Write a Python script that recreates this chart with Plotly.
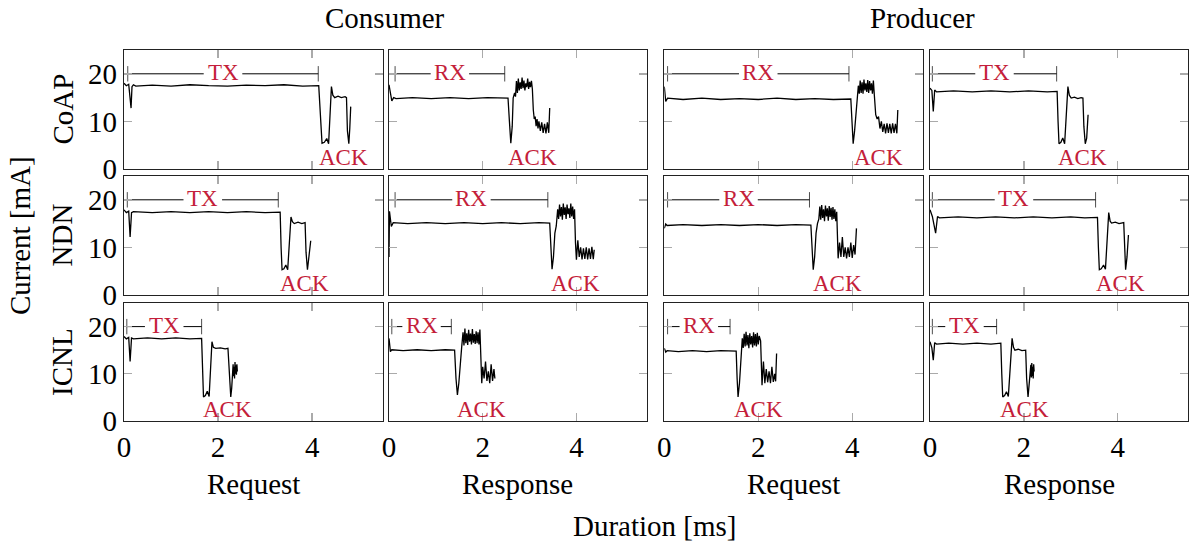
import plotly.graph_objects as go

# ---------------- data ----------------
protocols = ["CoAP", "NDN", "ICNL"]
roles = ["Consumer", "Producer"]
phases = ["Request", "Response", "Request", "Response"]
x_ticks = [0, 2, 4]
y_ticks = [0, 10, 20]
x_range = [0, 5.5]
y_range = [0, 25]

# CoAP
coap_cons_req_t = [0, 0.05, 0.10, 0.15, 0.17, 0.20, 0.25, 0.6, 1.0, 1.4, 1.8, 2.2, 2.6, 3.0, 3.4, 3.8, 4.14, 4.17, 4.21, 4.26, 4.31, 4.35, 4.39, 4.41, 4.44, 4.48, 4.55, 4.62, 4.70, 4.73, 4.75, 4.78, 4.80, 4.82]
coap_cons_req_i = [18.0, 17.5, 17.8, 12.8, 17.3, 17.7, 17.4, 17.6, 17.4, 17.7, 17.5, 17.4, 17.6, 17.5, 17.7, 17.4, 17.5, 11.0, 5.4, 5.6, 6.4, 5.3, 12.5, 17.3, 15.5, 15.0, 15.3, 15.0, 15.2, 15.0, 8.0, 5.3, 8.5, 13.1]

coap_cons_resp_t = [0, 0.03, 0.06, 0.10, 0.15, 0.5, 0.9, 1.3, 1.7, 2.1, 2.54, 2.57, 2.60, 2.63, 2.65, 2.68, 2.70, 2.72, 2.74, 2.76, 2.78, 2.80, 2.82, 2.84, 2.86, 2.88, 2.90, 2.92, 2.94, 2.96, 2.98, 3.00, 3.02, 3.04, 3.06, 3.08, 3.10, 3.12, 3.14, 3.16, 3.18, 3.20, 3.23, 3.26, 3.29, 3.32, 3.35, 3.38, 3.41, 3.43]
coap_cons_resp_i = [17.7, 15.5, 14.3, 15.0, 14.8, 15.0, 14.8, 15.0, 14.8, 15.0, 14.9, 10.0, 5.4, 9.0, 14.9, 16.0, 15.2, 18.5, 16.0, 19.0, 16.5, 18.2, 16.8, 19.2, 17.0, 18.6, 16.5, 18.0, 17.2, 19.0, 16.8, 18.3, 17.2, 18.5, 16.8, 12.4, 10.5, 11.0, 9.0, 10.5, 8.5, 10.0, 8.0, 9.8, 7.6, 9.5, 7.5, 9.8, 7.6, 12.8]

coap_prod_req_t = [0, 0.03, 0.07, 0.4, 0.8, 1.2, 1.6, 2.0, 2.4, 2.8, 3.2, 3.6, 3.97, 4.00, 4.02, 4.05, 4.08, 4.10, 4.13, 4.15, 4.17, 4.19, 4.21, 4.23, 4.25, 4.27, 4.29, 4.31, 4.33, 4.35, 4.37, 4.39, 4.41, 4.43, 4.45, 4.47, 4.50, 4.53, 4.56, 4.59, 4.62, 4.65, 4.68, 4.71, 4.74, 4.77, 4.80, 4.83, 4.86, 4.89, 4.92, 4.95, 4.97]
coap_prod_req_i = [17.3, 14.2, 14.9, 14.6, 14.9, 14.6, 14.8, 14.6, 14.9, 14.6, 14.8, 14.6, 14.7, 9.0, 5.3, 8.0, 12.4, 13.5, 17.5, 15.8, 18.6, 16.0, 18.2, 15.8, 18.8, 16.5, 18.0, 16.2, 18.7, 16.0, 18.5, 16.5, 18.0, 15.8, 18.6, 15.6, 11.4, 10.5, 11.0, 8.5, 10.0, 7.8, 9.5, 7.5, 9.6, 7.6, 9.5, 7.5, 9.6, 7.6, 9.5, 7.5, 12.4]

coap_prod_resp_t = [0, 0.04, 0.07, 0.10, 0.14, 0.5, 0.9, 1.3, 1.7, 2.1, 2.5, 2.71, 2.73, 2.75, 2.79, 2.83, 2.87, 2.91, 2.94, 2.97, 3.01, 3.08, 3.15, 3.22, 3.26, 3.28, 3.31, 3.34, 3.37]
coap_prod_resp_i = [17.0, 16.5, 12.1, 16.6, 16.2, 16.4, 16.2, 16.4, 16.2, 16.4, 16.2, 16.3, 10.0, 5.3, 5.6, 6.5, 5.3, 11.0, 17.3, 15.5, 14.9, 15.1, 14.8, 15.0, 14.9, 9.0, 5.3, 6.5, 11.4]

# NDN
ndn_cons_req_t = [0, 0.05, 0.10, 0.13, 0.16, 0.20, 0.6, 1.0, 1.4, 1.8, 2.2, 2.6, 3.0, 3.32, 3.34, 3.36, 3.40, 3.44, 3.48, 3.52, 3.55, 3.58, 3.62, 3.70, 3.78, 3.85, 3.87, 3.90, 3.93, 3.97]
ndn_cons_req_i = [17.9, 17.3, 17.6, 12.2, 17.3, 17.5, 17.3, 17.5, 17.3, 17.5, 17.3, 17.5, 17.3, 17.4, 10.0, 5.3, 5.5, 6.3, 5.3, 11.0, 16.4, 15.4, 15.0, 15.3, 15.0, 15.2, 9.0, 5.3, 8.0, 11.4]

ndn_cons_resp_t = [0, 0.01, 0.05, 0.09, 0.4, 0.8, 1.2, 1.6, 2.0, 2.4, 2.8, 3.2, 3.43, 3.46, 3.48, 3.51, 3.54, 3.57, 3.60, 3.62, 3.64, 3.66, 3.68, 3.70, 3.72, 3.74, 3.76, 3.78, 3.80, 3.82, 3.84, 3.86, 3.88, 3.90, 3.92, 3.94, 3.96, 3.98, 4.00, 4.03, 4.06, 4.09, 4.12, 4.15, 4.18, 4.21, 4.24, 4.27, 4.30, 4.33, 4.36, 4.38]
ndn_cons_resp_i = [8.0, 17.6, 14.4, 15.2, 15.0, 15.2, 15.0, 15.2, 15.0, 15.2, 15.0, 15.2, 15.1, 10.0, 5.4, 8.0, 13.0, 14.5, 18.0, 16.0, 19.0, 16.5, 18.5, 15.8, 19.2, 16.8, 18.4, 16.0, 19.0, 17.0, 18.2, 16.2, 19.2, 16.5, 18.6, 16.0, 18.0, 11.0, 7.4, 11.5, 8.0, 10.0, 7.5, 9.8, 7.6, 10.0, 7.5, 9.8, 7.6, 10.1, 7.5, 9.5]

ndn_prod_req_t = [0, 0.03, 0.06, 0.4, 0.8, 1.2, 1.6, 2.0, 2.4, 2.8, 3.12, 3.15, 3.17, 3.20, 3.23, 3.26, 3.29, 3.31, 3.33, 3.35, 3.37, 3.39, 3.41, 3.43, 3.45, 3.47, 3.49, 3.51, 3.53, 3.55, 3.57, 3.59, 3.61, 3.63, 3.65, 3.67, 3.70, 3.73, 3.76, 3.79, 3.82, 3.85, 3.88, 3.91, 3.94, 3.97, 4.00, 4.03, 4.06, 4.09]
ndn_prod_req_i = [14.0, 14.9, 14.6, 14.8, 14.6, 14.8, 14.6, 14.8, 14.6, 14.8, 14.7, 9.0, 5.3, 8.0, 13.0, 15.0, 16.0, 18.6, 15.8, 18.9, 16.2, 18.0, 15.5, 18.8, 16.5, 18.2, 15.6, 18.7, 16.4, 18.3, 15.8, 18.5, 16.0, 18.0, 15.5, 17.5, 7.7, 11.0, 8.0, 12.2, 8.0, 10.0, 7.7, 10.0, 8.0, 11.0, 7.8, 10.5, 8.5, 14.0]

ndn_prod_resp_t = [0, 0.05, 0.12, 0.16, 0.20, 0.6, 1.0, 1.4, 1.8, 2.2, 2.6, 3.0, 3.3, 3.57, 3.59, 3.61, 3.65, 3.70, 3.74, 3.78, 3.81, 3.84, 3.87, 3.95, 4.03, 4.13, 4.15, 4.17, 4.20, 4.23]
ndn_prod_resp_i = [17.9, 16.5, 13.0, 16.5, 16.2, 16.4, 16.2, 16.4, 16.2, 16.4, 16.2, 16.4, 16.2, 16.3, 10.0, 5.3, 5.5, 6.3, 5.4, 11.0, 17.3, 15.5, 15.1, 15.3, 15.0, 15.2, 9.0, 5.3, 8.0, 12.6]

# ICNL
icnl_cons_req_t = [0, 0.05, 0.10, 0.13, 0.16, 0.20, 0.5, 0.8, 1.1, 1.4, 1.65, 1.67, 1.69, 1.73, 1.77, 1.81, 1.84, 1.87, 1.90, 1.95, 2.05, 2.15, 2.21, 2.24, 2.27, 2.29, 2.31, 2.32, 2.33, 2.34, 2.35, 2.36, 2.37, 2.38, 2.39, 2.40, 2.41]
icnl_cons_req_i = [17.9, 17.4, 17.7, 12.6, 17.6, 17.4, 17.6, 17.4, 17.6, 17.4, 17.5, 10.0, 5.1, 5.4, 6.3, 5.2, 11.0, 16.8, 15.6, 15.4, 15.5, 15.3, 15.4, 9.0, 5.1, 7.0, 10.1, 12.0, 9.5, 11.5, 9.0, 12.5, 10.0, 11.8, 9.8, 12.0, 10.5]

icnl_cons_resp_t = [0, 0.03, 0.06, 0.3, 0.6, 0.9, 1.2, 1.40, 1.43, 1.46, 1.49, 1.52, 1.55, 1.58, 1.60, 1.62, 1.64, 1.66, 1.68, 1.70, 1.72, 1.74, 1.76, 1.78, 1.80, 1.82, 1.84, 1.86, 1.88, 1.90, 1.92, 1.94, 1.96, 1.98, 2.00, 2.03, 2.06, 2.09, 2.12, 2.15, 2.18, 2.21, 2.24, 2.26]
icnl_cons_resp_i = [17.5, 14.7, 15.1, 14.9, 15.1, 14.9, 15.1, 15.0, 9.0, 5.5, 8.0, 13.0, 15.5, 18.8, 16.0, 19.6, 16.5, 18.6, 16.1, 19.3, 16.8, 18.5, 16.2, 19.5, 16.6, 18.4, 16.3, 19.0, 16.5, 18.8, 16.2, 19.4, 12.0, 8.0, 11.5, 9.0, 12.6, 8.5, 10.5, 8.0, 12.0, 8.5, 11.0, 9.0]

icnl_prod_req_t = [0, 0.03, 0.06, 0.3, 0.6, 0.9, 1.2, 1.53, 1.55, 1.57, 1.60, 1.63, 1.66, 1.68, 1.70, 1.72, 1.74, 1.76, 1.78, 1.80, 1.82, 1.84, 1.86, 1.88, 1.90, 1.92, 1.94, 1.96, 1.98, 2.00, 2.02, 2.05, 2.08, 2.11, 2.14, 2.17, 2.20, 2.23, 2.26, 2.29, 2.32, 2.35, 2.37, 2.39]
icnl_prod_req_i = [15.4, 14.6, 14.9, 14.7, 14.9, 14.7, 14.9, 14.8, 9.0, 5.1, 8.0, 12.6, 17.5, 15.5, 18.5, 15.8, 18.9, 16.0, 18.2, 15.4, 18.6, 16.2, 18.0, 15.6, 18.8, 16.0, 18.4, 15.8, 18.7, 16.2, 18.0, 17.0, 7.6, 12.6, 8.0, 11.0, 8.2, 10.5, 8.0, 11.5, 8.3, 10.0, 8.4, 14.3]

icnl_prod_resp_t = [0, 0.04, 0.07, 0.10, 0.14, 0.4, 0.7, 1.0, 1.3, 1.51, 1.53, 1.55, 1.59, 1.63, 1.67, 1.71, 1.75, 1.78, 1.81, 1.88, 1.96, 2.04, 2.06, 2.09, 2.12, 2.15, 2.16, 2.17, 2.18, 2.19, 2.20, 2.21, 2.22]
icnl_prod_resp_i = [16.8, 15.5, 12.9, 16.6, 16.3, 16.5, 16.3, 16.5, 16.3, 16.5, 10.0, 5.1, 5.4, 6.2, 5.2, 11.0, 17.5, 15.6, 15.0, 15.2, 14.9, 15.0, 9.0, 5.1, 8.0, 11.9, 9.2, 12.3, 9.5, 11.5, 9.0, 12.0, 10.5]

# phase brackets (TX / RX) and ACK labels, per panel (row-major)
bracket_label = ["TX", "RX", "RX", "TX"] * 3
bracket_start = [0.08, 0.13, 0.07, 0.05, 0.07, 0.13, 0.07, 0.05, 0.06, 0.06, 0.07, 0.05]
bracket_end = [4.13, 2.47, 3.93, 2.70, 3.28, 3.39, 3.09, 3.53, 1.65, 1.33, 1.40, 1.42]
bracket_level = 20
label_gap = 0.41   # half-width (ms) of the gap left in the bracket for its label
ack_x = [4.66, 3.07, 4.55, 3.26, 3.83, 3.99, 3.69, 4.07, 2.19, 1.97, 2.00, 2.02]
ack_level = 2.5

series = [
    (coap_cons_req_t, coap_cons_req_i), (coap_cons_resp_t, coap_cons_resp_i),
    (coap_prod_req_t, coap_prod_req_i), (coap_prod_resp_t, coap_prod_resp_i),
    (ndn_cons_req_t, ndn_cons_req_i), (ndn_cons_resp_t, ndn_cons_resp_i),
    (ndn_prod_req_t, ndn_prod_req_i), (ndn_prod_resp_t, ndn_prod_resp_i),
    (icnl_cons_req_t, icnl_cons_req_i), (icnl_cons_resp_t, icnl_cons_resp_i),
    (icnl_prod_req_t, icnl_prod_req_i), (icnl_prod_resp_t, icnl_prod_resp_i),
]

# ---------------- layout ----------------
W, H = 1192, 549
FONT = "Liberation Serif"
BIG = 29
SMALL = 23
RED = "#c41e3a"
col_px = [(124, 382.7), (389, 646.7), (664.3, 922.7), (930, 1188)]
row_px = [(50, 169), (176, 295), (303, 421)]

fig = go.Figure()
annotations = []
layout = dict(
    width=W, height=H, margin=dict(l=0, r=0, t=0, b=0, autoexpand=False),
    paper_bgcolor="white", plot_bgcolor="white", showlegend=False,
    font=dict(family=FONT, size=BIG, color="black"),
)

for r in range(3):
    for c in range(4):
        k = r * 4 + c
        n = k + 1
        xs = "" if n == 1 else str(n)
        t, i = series[k]
        fig.add_trace(go.Scatter(x=t, y=i, mode="lines", line=dict(color="black", width=1.3),
                                 xaxis="x" + xs, yaxis="y" + xs, hoverinfo="skip"))
        # bracket with a gap for its label
        s, e = bracket_start[k], bracket_end[k]
        mid = (s + e) / 2
        fig.add_trace(go.Scatter(x=[s, mid - label_gap, None, mid + label_gap, e],
                                 y=[bracket_level, bracket_level, None, bracket_level, bracket_level],
                                 mode="lines+markers", line=dict(color="black", width=1),
                                 marker=dict(symbol="line-ns-open", size=[11, 0, 0, 0, 11], color="black",
                                             line=dict(color="black", width=1)),
                                 connectgaps=False,
                                 xaxis="x" + xs, yaxis="y" + xs, hoverinfo="skip"))
        annotations.append(dict(x=mid, y=bracket_level,
                                xref="x" + xs, yref="y" + xs, text=bracket_label[k], showarrow=False,
                                yshift=1,
                                font=dict(family=FONT, size=SMALL, color=RED)))
        annotations.append(dict(x=ack_x[k], y=ack_level, xref="x" + xs, yref="y" + xs,
                                text="ACK", showarrow=False,
                                font=dict(family=FONT, size=SMALL, color=RED)))
        x0, x1 = col_px[c]
        y0, y1 = row_px[r]
        common = dict(showline=True, linecolor="#222", linewidth=1.2, mirror="ticks",
                      ticks="inside", ticklen=8, tickwidth=1.4, tickcolor="#aaaaaa",
                      showgrid=False, zeroline=False, fixedrange=True, automargin=False,
                      tickfont=dict(family=FONT, size=BIG, color="black"))
        layout["xaxis" + xs] = dict(common, domain=[x0 / W, x1 / W], range=x_range,
                                    tickvals=x_ticks, showticklabels=(r == 2),
                                    anchor="y" + xs)
        layout["yaxis" + xs] = dict(common, domain=[1 - y1 / H, 1 - y0 / H], range=y_range,
                                    tickvals=y_ticks, showticklabels=(c == 0),
                                    anchor="x" + xs)

def paper_text(text, px, py, angle=0, size=BIG):
    annotations.append(dict(x=px / W, y=1 - py / H, xref="paper", yref="paper", text=text,
                            showarrow=False, textangle=angle, xanchor="center", yanchor="middle",
                            font=dict(family=FONT, size=size, color="black")))

paper_text(roles[0], 385, 18)
paper_text(roles[1], 922, 18)
for r, p in enumerate(protocols):
    paper_text(p, 62, (row_px[r][0] + row_px[r][1]) / 2, angle=-90)
paper_text("Current [mA]", 20, 236, angle=-90)
for c, ph in enumerate(phases):
    paper_text(ph, (col_px[c][0] + col_px[c][1]) / 2, 484)
paper_text("Duration [ms]", 655, 526)

layout["annotations"] = annotations
fig.update_layout(**layout)
fig.write_html("out.html", config={"displayModeBar": False, "staticPlot": True},
               post_script="document.body.style.margin='0';document.body.style.overflow='hidden';")
